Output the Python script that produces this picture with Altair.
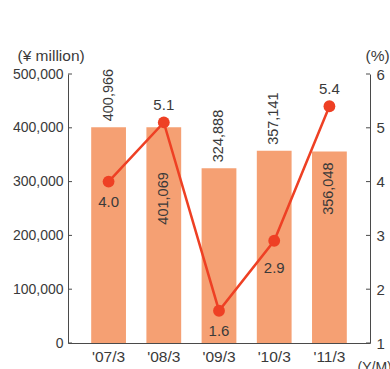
import altair as alt
import pandas as pd

years = ["'07/3", "'08/3", "'09/3", "'10/3", "'11/3"]
sales = [400966, 401069, 324888, 357141, 356048]
margin = [4.0, 5.1, 1.6, 2.9, 5.4]
left_ticks = [0, 100000, 200000, 300000, 400000, 500000]
right_ticks = [1, 2, 3, 4, 5, 6]

sales_above = ["'07/3", "'09/3", "'10/3"]
sales_inside = ["'11/3"]
sales_inside_deep = ["'08/3"]
margin_above = ["'08/3", "'11/3"]
margin_below = ["'07/3", "'09/3"]
margin_below_far = ["'10/3"]

df = pd.DataFrame({"year": years, "sales": sales, "margin": margin})
lt = pd.DataFrame({"sales": left_ticks})
rt = pd.DataFrame({"margin": right_ticks})

FONT = "Liberation Sans"
TXT = "#3a3a3a"
AX = "#4a4a4a"
BAR = "#F5A073"
LINE = "#EE4024"
W, H = 302, 269

X = alt.X(
    "year:N", sort=years,
    scale=alt.Scale(paddingInner=0.37, paddingOuter=0.42),
    axis=alt.Axis(labelAngle=0, ticks=False, labelPadding=6, labelFontSize=15.5,
                  title="(Y/M)", titleAngle=0, titleX=289, titleY=28,
                  titleFontSize=14, titleAlign="left",
                  titleBaseline="alphabetic", domainColor=AX),
)
YL = alt.Y(
    "sales:Q", scale=alt.Scale(domain=[0, 500000]),
    axis=alt.Axis(orient="left", values=left_ticks, format=",.0f", ticks=False,
                  labelPadding=5, title="(¥ million)", titleAngle=0, titleX=-51,
                  titleY=-14, titleAlign="left", titleBaseline="alphabetic",
                  domainColor=AX),
)
YR = alt.Y(
    "margin:Q", scale=alt.Scale(domain=[1, 6]),
    axis=alt.Axis(orient="right", values=right_ticks, format="d", ticks=False,
                  labelPadding=6, labelFontSize=15, title="(%)", titleAngle=0,
                  titleX=-5, titleY=-14, titleAlign="left",
                  titleBaseline="alphabetic", domainColor=AX),
)

base = alt.Chart(df)
bars = base.mark_bar(color=BAR).encode(x=X, y=YL)

def sales_text(cats, align, dx):
    return base.transform_filter(
        alt.FieldOneOfPredicate(field="year", oneOf=cats)
    ).mark_text(angle=270, align=align, baseline="middle", dx=dx, fontSize=14.5,
                font=FONT, color=TXT).encode(x=X, y=YL, text=alt.Text("sales:Q", format=","))

lticks = alt.Chart(lt).mark_rule(color=AX).encode(
    x=alt.value(0), x2=alt.value(4), y=YL)

left = alt.layer(
    bars,
    sales_text(sales_above, "left", 6),
    sales_text(sales_inside, "right", -11),
    sales_text(sales_inside_deep, "right", -45),
    lticks,
)

line = base.mark_line(color=LINE, strokeWidth=2.5).encode(x=X, y=YR)
pts = base.mark_circle(color=LINE, size=140, opacity=1).encode(x=X, y=YR)

def margin_text(cats, dy):
    return base.transform_filter(
        alt.FieldOneOfPredicate(field="year", oneOf=cats)
    ).mark_text(align="center", baseline="middle", dy=dy, fontSize=15,
                font=FONT, color=TXT).encode(x=X, y=YR, text=alt.Text("margin:Q", format=".1f"))

rticks = alt.Chart(rt).mark_rule(color=AX).encode(
    x=alt.value(W - 4), x2=alt.value(W), y=YR)

right = alt.layer(
    line, pts,
    margin_text(margin_above, -17),
    margin_text(margin_below, 20),
    margin_text(margin_below_far, 27),
    rticks,
)

chart = alt.layer(left, right).resolve_scale(y="independent").properties(
    width=W, height=H,
    padding={"left": 68, "top": 74, "right": 20, "bottom": 26},
    autosize="none",
).configure_view(stroke=None).configure_axis(
    grid=False, labelFont=FONT, titleFont=FONT, labelFontSize=14, titleFontSize=15.5,
    labelColor=TXT, titleColor=TXT, titleFontWeight="normal", domainWidth=1,
)

chart.save("out.html", embed_options={"renderer": "svg", "actions": False})
